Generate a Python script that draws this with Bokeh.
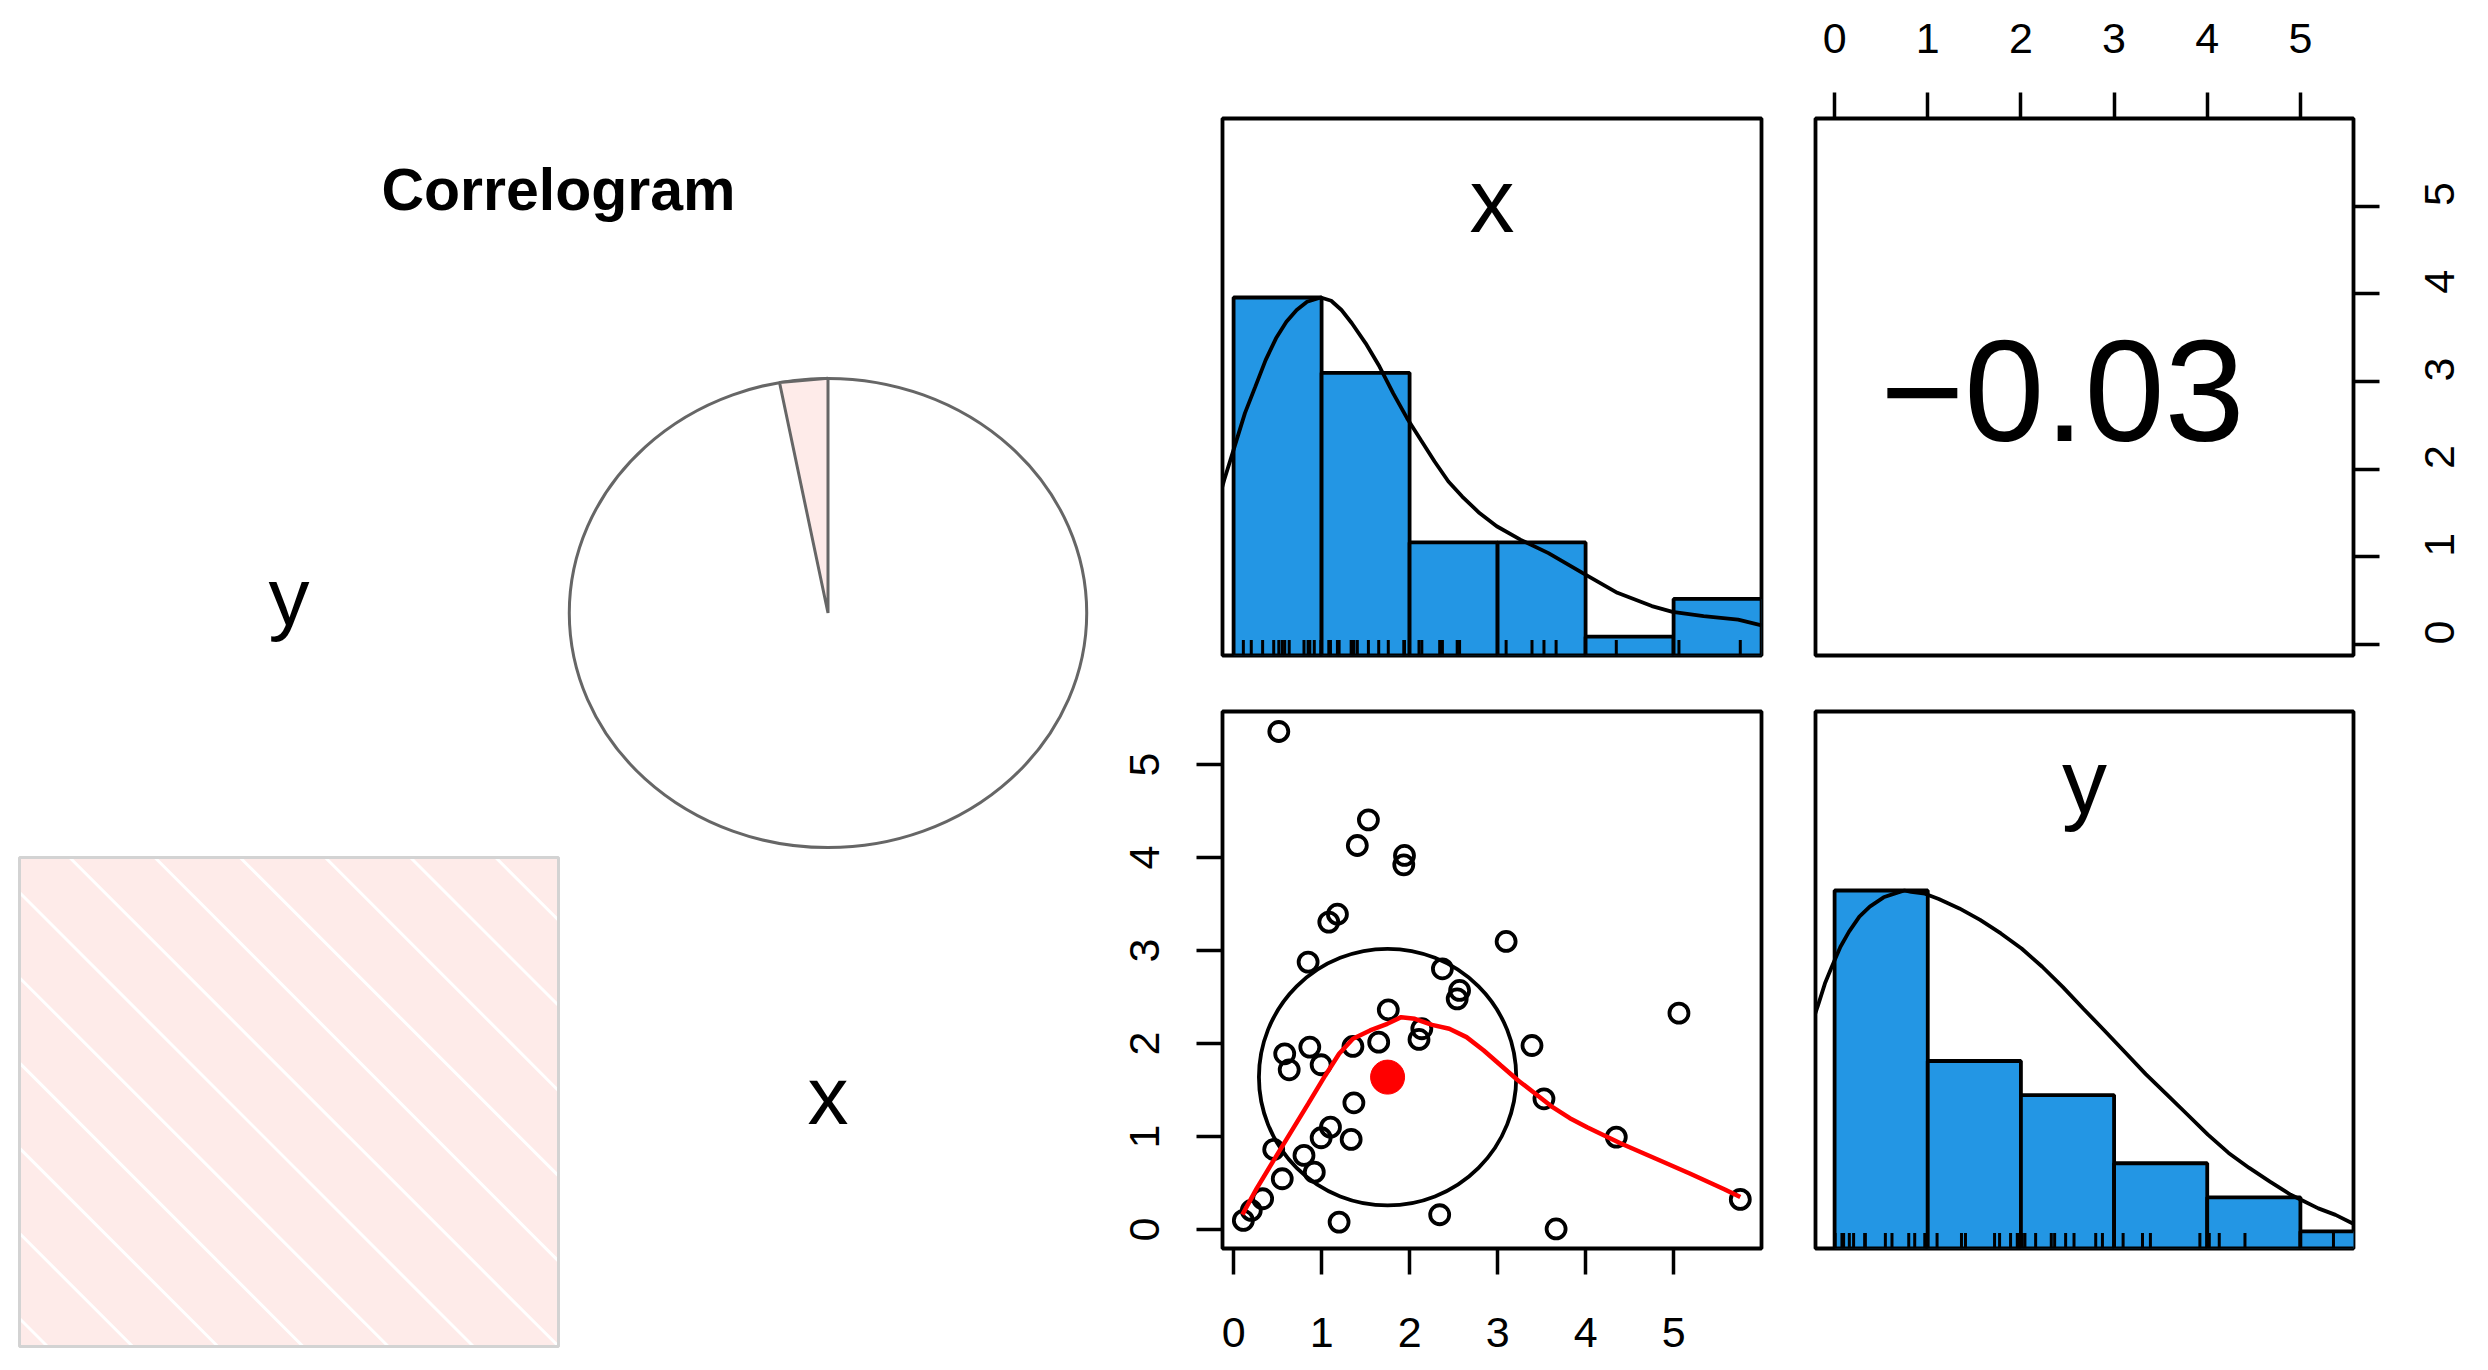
import math
from bokeh.plotting import figure
from bokeh.layouts import row, column
from bokeh.models import Range1d, FixedTicker
from bokeh.core.properties import value
from bokeh.embed import file_html
from bokeh.resources import INLINE

# ---------------- data ----------------
corr_vars = ["y", "x"]          # correlogram variable order
pair_vars = ["x", "y"]          # scatter-matrix variable order
corr_xy = -0.03

x_vals = [0.514, 1.532, 1.406, 1.942, 1.934, 1.180, 1.082, 3.097, 0.847, 2.373,
          2.568, 2.541, 1.758, 2.139, 2.107, 5.061, 3.391, 1.649, 1.356, 0.866,
          0.581, 0.995, 0.632, 3.527, 1.367, 4.349, 1.101, 0.995, 1.336, 0.456,
          0.800, 0.917, 0.553, 0.330, 0.201, 0.111, 5.758, 2.342, 1.199, 3.665]
y_vals = [5.355, 4.405, 4.129, 4.022, 3.921, 3.390, 3.305, 3.097, 2.875, 2.803,
          2.570, 2.480, 2.362, 2.158, 2.043, 2.326, 1.978, 2.014, 1.968, 1.961,
          1.889, 1.771, 1.717, 1.405, 1.362, 0.993, 1.100, 0.986, 0.968, 0.860,
          0.796, 0.616, 0.545, 0.330, 0.204, 0.097, 0.323, 0.158, 0.079, 0.005]

hist_breaks = [0, 1, 2, 3, 4, 5, 6]
x_counts = [19, 15, 6, 6, 1, 3]
y_counts = [21, 11, 9, 5, 3, 1]

x_dens_at = [-0.13, -0.106, 0.012, 0.129, 0.247, 0.364, 0.482, 0.600, 0.717, 0.835,
             0.991, 1.109, 1.226, 1.344, 1.501, 1.658, 1.814, 1.971, 2.128, 2.284,
             2.441, 2.598, 2.794, 2.990, 3.264, 3.578, 3.969, 4.361, 4.753, 4.988,
             5.341, 5.733, 6.0]
x_dens = [0.470, 0.491, 0.584, 0.677, 0.751, 0.825, 0.886, 0.932, 0.965, 0.988,
          1.000, 0.991, 0.965, 0.928, 0.872, 0.807, 0.732, 0.663, 0.602, 0.542,
          0.486, 0.444, 0.398, 0.361, 0.323, 0.286, 0.230, 0.175, 0.138, 0.122,
          0.110, 0.100, 0.084]

y_dens_at = [-0.21, -0.178, -0.104, -0.030, 0.063, 0.155, 0.266, 0.378, 0.526, 0.674,
             0.750, 0.822, 0.970, 1.118, 1.339, 1.562, 1.785, 2.007, 2.229, 2.451,
             2.673, 2.896, 3.118, 3.340, 3.562, 3.784, 4.007, 4.229, 4.451, 4.673,
             4.896, 5.006, 5.192, 5.377, 5.562, 5.58]
y_dens = [0.655, 0.679, 0.740, 0.787, 0.843, 0.885, 0.927, 0.955, 0.981, 0.994,
          1.000, 0.996, 0.991, 0.976, 0.950, 0.918, 0.880, 0.838, 0.787, 0.730,
          0.669, 0.609, 0.548, 0.487, 0.431, 0.375, 0.318, 0.267, 0.225, 0.187,
          0.150, 0.136, 0.112, 0.094, 0.070, 0.069]

loess_x = [0.100, 0.260, 0.455, 0.651, 0.847, 1.042, 1.199, 1.356, 1.551, 1.747,
           1.904, 2.060, 2.255, 2.451, 2.647, 2.843, 3.038, 3.234, 3.430, 3.625,
           3.821, 4.017, 4.212, 4.408, 4.800, 5.190, 5.582, 5.758]
loess_y = [0.160, 0.437, 0.742, 1.047, 1.351, 1.656, 1.889, 2.050, 2.140, 2.211,
           2.283, 2.265, 2.200, 2.158, 2.068, 1.925, 1.763, 1.602, 1.459, 1.315,
           1.197, 1.100, 1.011, 0.921, 0.760, 0.599, 0.430, 0.348]

mean_xy = [1.750, 1.638]
sd_xy = [1.462, 1.380]

axis_ticks = [0, 1, 2, 3, 4, 5]

# ---------------- style ----------------
FONT = "Liberation Sans"
BAR = "#2396E4"
LW = 3.8
X_RANGE = (-0.126, 5.999)   # usr of variable x
Y_RANGE = (-0.205, 5.570)   # usr of variable y
HIST_V = (0, 1.5)
MID = 0.3465                # em offset from alphabetic baseline to em-box middle


def base(w, h, xr, yr, bl, br, bt, bb, xloc=None, yloc=None, outline=True):
    p = figure(width=w, height=h, x_range=Range1d(*xr), y_range=Range1d(*yr),
               x_axis_location=xloc, y_axis_location=yloc, tools="",
               toolbar_location=None, output_backend="svg",
               min_border_left=bl, min_border_right=br,
               min_border_top=bt, min_border_bottom=bb)
    p.grid.visible = False
    p.background_fill_color = "white"
    p.border_fill_color = "white"
    if outline:
        p.outline_line_color = "black"
        p.outline_line_width = LW
    else:
        p.outline_line_color = None
    return p


def style_axis(ax, standoff, orient="horizontal"):
    ax.ticker = FixedTicker(ticks=axis_ticks)
    ax.major_tick_out = 26
    ax.major_tick_in = 0
    ax.minor_tick_out = 0
    ax.minor_tick_in = 0
    ax.major_tick_line_width = 3.5
    ax.major_tick_line_color = "black"
    ax.axis_line_color = None
    ax.major_label_text_font = FONT
    ax.major_label_text_font_size = "43px"
    ax.major_label_text_color = "black"
    ax.major_label_standoff = standoff
    ax.major_label_orientation = orient


def put_text(p, x, y_base, txt, size, px_per_unit, bold=False):
    # y_base: alphabetic baseline in data units; drawn with a middle baseline
    p.text(x=[x], y=[y_base + MID * size / px_per_unit], text=[txt],
           text_font=value(FONT), text_font_size=value(f"{size}px"),
           text_font_style="bold" if bold else "normal",
           text_align="center", text_baseline="middle", text_color="black")


FRAME_A, FRAME_B, FRAME_H = 539, 538, 537


def hist_panel(p, counts, vals, dens_at, dens, label, label_base):
    top = [c / max(counts) for c in counts]
    p.quad(left=hist_breaks[:-1], right=hist_breaks[1:], bottom=0, top=top,
           fill_color=BAR, line_color="black", line_width=LW)
    p.line(dens_at, dens, line_color="black", line_width=LW)
    p.segment(x0=vals, y0=[0] * len(vals), x1=vals, y1=[0.043] * len(vals),
              line_color="black", line_width=3)
    cx = (p.x_range.start + p.x_range.end) / 2
    put_text(p, cx, label_base, label, 90, FRAME_H / (HIST_V[1] - HIST_V[0]))


# ---------------- scatter matrix ----------------
BL_A, BR_A = 122, 27
BL_B, BR_B = 27, 134
BT_1, BB_1 = 118, 28
BT_2, BB_2 = 28, 118
WA = BL_A + FRAME_A + BR_A
WB = BL_B + FRAME_B + BR_B
H1 = BT_1 + FRAME_H + BB_1
H2 = BT_2 + FRAME_H + BB_2

a1 = base(WA, H1, X_RANGE, HIST_V, BL_A, BR_A, BT_1, BB_1)
hist_panel(a1, x_counts, x_vals, x_dens_at, x_dens, pair_vars[0], 1.183)

b1 = base(WB, H1, Y_RANGE, X_RANGE, BL_B, BR_B, BT_1, BB_1, xloc="above", yloc="right")
style_axis(b1.xaxis[0], 40)
style_axis(b1.yaxis[0], 60, math.pi / 2)   # read bottom-to-top, as on the left axis
corr_text = f"{corr_xy:.2f}".replace("-", "\u2212")
put_text(b1, Y_RANGE[0] + 0.459 * (Y_RANGE[1] - Y_RANGE[0]), 2.326, corr_text, 144,
         FRAME_H / (X_RANGE[1] - X_RANGE[0]))

a2 = base(WA, H2, X_RANGE, Y_RANGE, BL_A, BR_A, BT_2, BB_2, xloc="below", yloc="left")
style_axis(a2.xaxis[0], 43)
style_axis(a2.yaxis[0], 37, "vertical")
a2.scatter(x_vals, y_vals, marker="circle", size=19, fill_color=None,
           line_color="black", line_width=LW)
a2.scatter([mean_xy[0]], [mean_xy[1]], marker="circle", size=34,
           fill_color="red", line_color="red")
a2.ellipse(x=mean_xy[0], y=mean_xy[1], width=2 * sd_xy[0], height=2 * sd_xy[1],
           fill_color=None, line_color="black", line_width=LW)
a2.line(loess_x, loess_y, line_color="red", line_width=4.5)

b2 = base(WB, H2, Y_RANGE, HIST_V, BL_B, BR_B, BT_2, BB_2)
hist_panel(b2, y_counts, y_vals, y_dens_at, y_dens, pair_vars[1], 1.2165)

# ---------------- correlogram ----------------
LW_W, LW_H = 1222 - BL_A, H1 + H2
CELL_W, CELL_H = 539, 489
ORIGIN_X, ORIGIN_Y = 19, 1346          # page position of the lower-left cell corner
cx0, cx1 = -ORIGIN_X / CELL_W, (LW_W - ORIGIN_X) / CELL_W
cy0, cy1 = (ORIGIN_Y - LW_H) / CELL_H, ORIGIN_Y / CELL_H
pl = base(LW_W, LW_H, (cx0, cx1), (cy0, cy1), 0, 0, 0, 0, outline=False)
sx, sy = CELL_W, CELL_H

# palette: red - salmon - white - royalblue - navy, 14 bins
ramp = [(255, 0, 0), (250, 128, 114), (255, 255, 255), (65, 105, 225), (0, 0, 128)]
ncol = 14
idx = min(int((corr_xy + 1) / (2 / ncol)), ncol - 1)
pos = idx / (ncol - 1) * (len(ramp) - 1)
k = min(int(pos), len(ramp) - 2)
f = pos - k
rgb = tuple(round(ramp[k][i] + f * (ramp[k + 1][i] - ramp[k][i])) for i in range(3))
corr_col = "#%02x%02x%02x" % rgb

n = len(corr_vars)
label_base_off = {"y": -0.024, "x": -0.0446}
for i, name in enumerate(corr_vars):
    put_text(pl, i + 0.5, n - 1 - i + 0.5 + label_base_off[name], name, 82, CELL_H)

# lower panel: shade with hatching (negative -> "\" lines)
lx, ly = 0, 0
pl.quad(left=lx, right=lx + 1, bottom=ly, top=ly + 1, fill_color=corr_col, line_color=None)
spacing_px, offset_px = 85.2, 28.0
hx0, hy0, hx1, hy1 = [], [], [], []
K = offset_px
while K < sx + sy:
    xa = max(0.0, (K - sy) / sx)
    xb = min(1.0, K / sx)
    hx0.append(lx + xa); hy0.append(ly + (K - sx * xa) / sy)
    hx1.append(lx + xb); hy1.append(ly + (K - sx * xb) / sy)
    K += spacing_px
pl.segment(x0=hx0, y0=hy0, x1=hx1, y1=hy1, line_color="white", line_width=3)
pl.quad(left=lx, right=lx + 1, bottom=ly, top=ly + 1, fill_color=None,
        line_color="#D3D3D3", line_width=3)

# upper panel: pie
pcx, pcy, pr = 1.5, 1.5, 0.48
pl.ellipse(x=pcx, y=pcy, width=2 * pr, height=2 * pr, fill_color=None,
           line_color="#666666", line_width=3)
a0 = math.pi / 2
a1_ = math.pi / 2 + 2 * math.pi * (-corr_xy)
pl.patch([pcx + pr * math.cos(a0), pcx + pr * math.cos(a1_), pcx],
         [pcy + pr * math.sin(a0), pcy + pr * math.sin(a1_), pcy],
         fill_color=corr_col, line_color="#666666", line_width=3)

# title
put_text(pl, 1.0, 2.323, "Correlogram", 59, CELL_H, bold=True)

layout = row(pl, column(row(a1, b1), row(a2, b2)))
open("out.html", "w").write(file_html(layout, INLINE))
